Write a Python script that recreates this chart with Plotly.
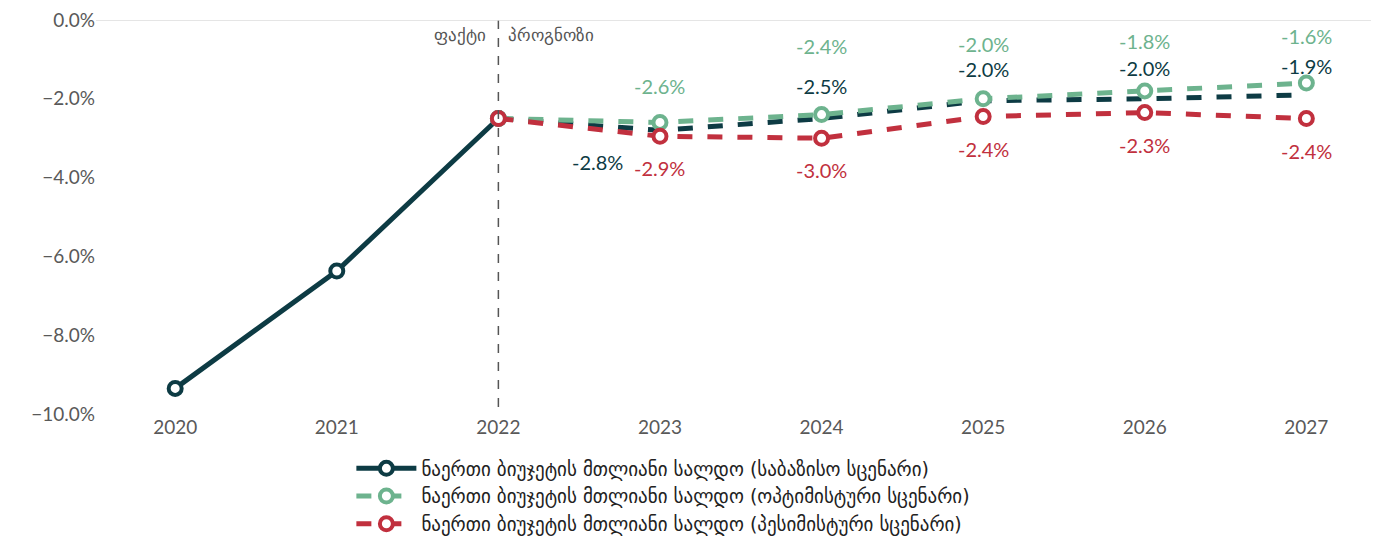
import plotly.graph_objects as go

years = [2020, 2021, 2022, 2023, 2024, 2025, 2026, 2027]
base = [-9.35, -6.37, -2.5, -2.8, -2.5, -2.05, -2.0, -1.9]
base_lbl = [None, None, None, "-2.8%", "-2.5%", "-2.0%", "-2.0%", "-1.9%"]
opt_years = [2022, 2023, 2024, 2025, 2026, 2027]
opt = [-2.5, -2.6, -2.4, -2.0, -1.8, -1.6]
pess = [-2.5, -2.95, -3.0, -2.45, -2.35, -2.5]
opt_lbl = ["-2.6%", "-2.4%", "-2.0%", "-1.8%", "-1.6%"]
pess_lbl = ["-2.9%", "-3.0%", "-2.4%", "-2.3%", "-2.4%"]
names = ["ნაერთი ბიუჯეტის მთლიანი სალდო (საბაზისო სცენარი)",
         "ნაერთი ბიუჯეტის მთლიანი სალდო (ოპტიმისტური სცენარი)",
         "ნაერთი ბიუჯეტის მთლიანი სალდო (პესიმისტური სცენარი)"]
C_B, C_O, C_P = "#0d3b44", "#6db38e", "#c1303e"

fig = go.Figure()
mk = lambda c: dict(size=13, color="white", line=dict(color=c, width=4))
fig.add_trace(go.Scatter(x=years[2:], y=base[2:], mode="lines", showlegend=False,
                         line=dict(color=C_B, width=5, dash="dash"), hoverinfo="skip"))
fig.add_trace(go.Scatter(x=years[:3], y=base[:3], name=names[0], mode="lines+markers",
                         line=dict(color=C_B, width=5), marker=mk(C_B)))
fig.add_trace(go.Scatter(x=opt_years, y=opt, name=names[1], mode="lines+markers",
                         line=dict(color=C_O, width=5, dash="dash"), marker=mk(C_O)))
fig.add_trace(go.Scatter(x=opt_years, y=pess, name=names[2], mode="lines+markers",
                         line=dict(color=C_P, width=5, dash="dash"), marker=mk(C_P)))

ann = []
f = lambda c: dict(size=20, color=c, family="Lato")
base_shift = [0, 0, 0, 0, 33, 32, 31, 29]
for i, y in enumerate(years):
    if base_lbl[i]:
        if y == 2023:
            ann.append(dict(x=y, y=base[i], text=base_lbl[i], xshift=-62, yshift=-32, showarrow=False, font=f(C_B)))
        else:
            ann.append(dict(x=y, y=base[i], text=base_lbl[i], yshift=base_shift[i], showarrow=False, font=f(C_B)))
opt_shift = [36, 69, 55, 50, 47]
for i, y in enumerate(opt_years[1:]):
    ann.append(dict(x=y, y=opt[i+1], text=opt_lbl[i], yshift=opt_shift[i], showarrow=False, font=f(C_O)))
    ann.append(dict(x=y, y=pess[i+1], text=pess_lbl[i], yshift=-32, showarrow=False, font=f(C_P)))
ann.append(dict(x=2022, y=0, text="ფაქტი", xanchor="right", yanchor="top", xshift=-10, yshift=-2, showarrow=False, font=dict(size=17, color="#555")))
ann.append(dict(x=2022, y=0, text="პროგნოზი", xanchor="left", yanchor="top", xshift=8, yshift=-2, showarrow=False, font=dict(size=17, color="#555")))

fig.add_shape(type="line", x0=2022, x1=2022, y0=0, y1=-10, line=dict(color="#555", width=1.5, dash="dash"))
fig.add_shape(type="line", xref="paper", x0=0, x1=1, y0=0, y1=0, line=dict(color="#ddd", width=1.5))

fig.update_layout(width=1392, height=548, plot_bgcolor="white", paper_bgcolor="white",
                  margin=dict(l=88, r=29, t=12, b=135), annotations=ann,
                  font=dict(family="Lato", size=19, color="#595959"),
                  legend=dict(orientation="v", x=0.445, xanchor="center", y=-0.09, yanchor="top",
                              font=dict(size=19, color="#222", family="DejaVu Sans"), tracegroupgap=0, itemwidth=60))
fig.update_xaxes(range=[2019.51, 2027.4], tickvals=years, showgrid=False, zeroline=False, ticks="", automargin=False, ticklabeloverflow="allow")
fig.update_yaxes(range=[-10, 0], dtick=2, tickformat=".1f", ticksuffix="%", showgrid=False, zeroline=False, automargin=False, ticklabeloverflow="allow")
fig.write_html("out.html")
